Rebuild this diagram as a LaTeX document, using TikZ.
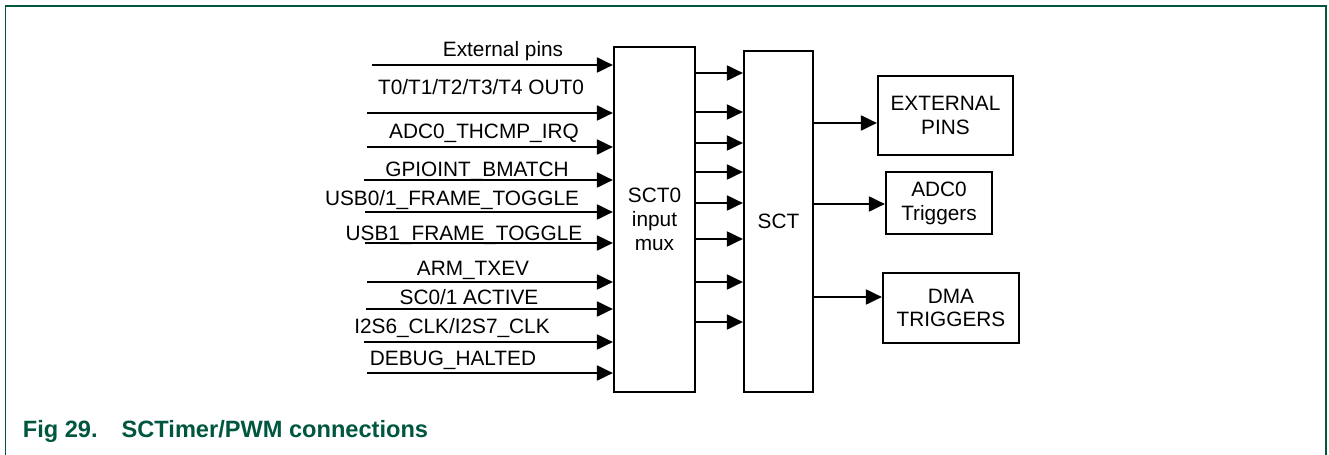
\documentclass[tikz,border=0pt]{standalone}
\usepackage{fontspec}
\setmainfont{Liberation Sans}
\usetikzlibrary{arrows.meta}
\definecolor{nxpgreen}{HTML}{00563F}
\begin{document}
\begin{tikzpicture}[x=0.5pt,y=-0.5pt,
  every node/.style={font=\fontsize{10.4pt}{11.9pt}\selectfont, inner sep=0pt},
  blk/.style={draw, line width=1.1pt, align=center},
  lbl/.style={anchor=base},
  arr/.style={line width=1pt, -{Triangle[length=8pt,width=7.5pt]}}]
\useasboundingbox (0,0) rectangle (1329,455);
\draw[nxpgreen, line width=0.6pt] (5.5,455) -- (5.5,6) -- (1326,6) -- (1326,455);
\node[anchor=base west, text=nxpgreen, font=\fontsize{11.8pt}{14pt}\selectfont\bfseries] (cap) at (22.5,437) {Fig 29.\hspace{12pt}SCTimer/PWM connections};

% blocks
\node[blk, minimum width=40.5pt, minimum height=172.5pt] (mux) at (654.5,219.5) {SCT0\\input\\mux};
\node[blk, minimum width=34.5pt, minimum height=170.5pt] (sct) at (778.5,221.5) {SCT};
\node[blk, minimum width=67.5pt, minimum height=39.5pt] (ext) at (945.5,115.5) {EXTERNAL\\PINS};
\node[blk, minimum width=53pt, minimum height=31pt] (adc) at (939,203) {ADC0\\Triggers};
\node[blk, minimum width=68pt, minimum height=35pt] (dma) at (951,308) {DMA\\TRIGGERS};

% input labels
\node[lbl] (l1) at (503,56.7) {External pins};
\node[lbl] (l2) at (481,94) {T0/T1/T2/T3/T4 OUT0};
\node[lbl] (l3) at (484,138.3) {ADC0\_THCMP\_IRQ};
\node[lbl] (l4) at (477,176.7) {GPIOINT\_BMATCH};
\node[lbl] (l5) at (452,205.7) {USB0/1\_FRAME\_TOGGLE};
\node[lbl] (l6) at (464,240) {USB1\_FRAME\_TOGGLE};
\node[lbl] (l7) at (473,275) {ARM\_TXEV};
\node[lbl] (l8) at (469,304) {SC0/1 ACTIVE};
\node[lbl] (l9) at (452,333.3) {I2S6\_CLK/I2S7\_CLK};
\node[lbl] (l10) at (453,365) {DEBUG\_HALTED};

% input arrow start points
\coordinate (i1) at (372,65);
\coordinate (i2) at (367,113);
\coordinate (i3) at (367,147);
\coordinate (i4) at (364,180);
\coordinate (i5) at (365,212);
\coordinate (i6) at (365,243);
\coordinate (i7) at (367,282);
\coordinate (i8) at (366,309);
\coordinate (i9) at (364,342);
\coordinate (i10) at (367,373);
\foreach \i in {1,...,10} \draw[arr] (i\i) -- (i\i -| mux.west);

% mux -> sct
\foreach \y [count=\k] in {73,112,143,172,203,239,282,322} {
  \coordinate (m\k) at (700,\y);
  \draw[arr] (m\k -| mux.east) -- (m\k -| sct.west);
}

% sct -> outputs
\coordinate (o1) at (850,123);
\coordinate (o2) at (850,204);
\coordinate (o3) at (850,297);
\draw[arr] (o1 -| sct.east) -- (o1 -| ext.west);
\draw[arr] (o2 -| sct.east) -- (o2 -| adc.west);
\draw[arr] (o3 -| sct.east) -- (o3 -| dma.west);
\end{tikzpicture}
\end{document}
